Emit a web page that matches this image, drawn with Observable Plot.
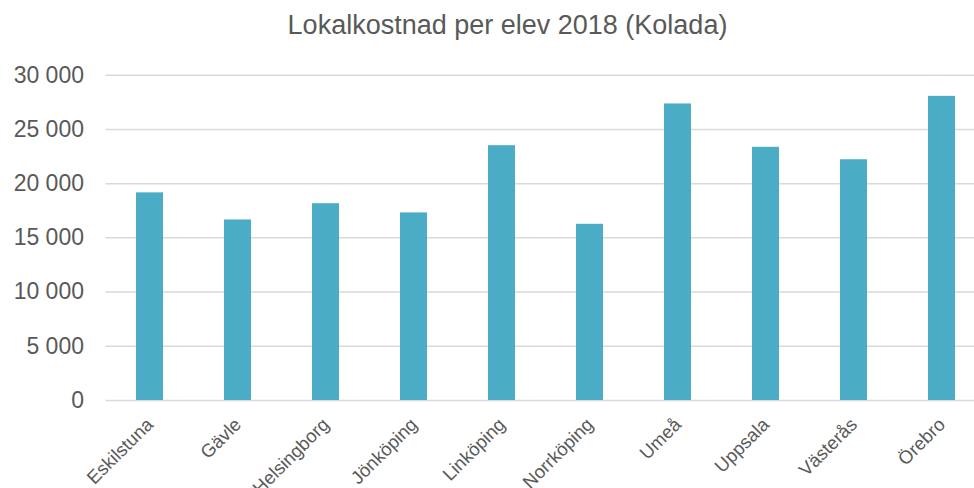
<!DOCTYPE html>
<html>
<head>
<meta charset="utf-8">
<script src="https://cdn.jsdelivr.net/npm/d3@7"></script>
<script src="https://cdn.jsdelivr.net/npm/@observablehq/plot@0.6"></script>
<style>
  html, body { margin: 0; padding: 0; background: #fff; overflow: hidden; }
  #wrap { position: relative; width: 974px; height: 488px; }
  #title { position: absolute; top: 10px; left: 0; width: 1015px; text-align: center; line-height: 31px;
    font-family: "Liberation Sans", Arial, sans-serif; font-size: 27px; color: #595959; }
  #chart { position: absolute; top: 0; left: 0; }
</style>
</head>
<body>
<div id="wrap">
  <div id="chart"></div>
  <div id="title">Lokalkostnad per elev 2018 (Kolada)</div>
</div>
<script>
const municipalities = ["Eskilstuna", "Gävle", "Helsingborg", "Jönköping", "Linköping", "Norrköping", "Umeå", "Uppsala", "Västerås", "Örebro"];
const costs = [19150, 16650, 18150, 17300, 23500, 16250, 27350, 23350, 22200, 28050];
const yTicks = [0, 5000, 10000, 15000, 20000, 25000, 30000];

const data = municipalities.map((m, i) => ({ m, v: costs[i] }));
const fmt = d => d3.format(",")(d).replace(/,/g, " ");

const chart = Plot.plot({
  width: 974,
  height: 488,
  marginLeft: 105.5,
  marginRight: 0,
  marginTop: 74.7,
  marginBottom: 88,
  style: { fontFamily: "Liberation Sans, Arial, sans-serif", color: "#595959", background: "transparent", overflow: "hidden" },
  x: { domain: municipalities, range: [105.5, 985.7], paddingInner: 0.69, paddingOuter: 0.345, label: null },
  y: { domain: [0, 30000], label: null },
  marks: [
    Plot.ruleY(yTicks, { stroke: "#d9d9d9", strokeWidth: 1.5 }),
    Plot.barY(data, { x: "m", y: "v", fill: "#4bacc6" }),
    Plot.axisY({ ticks: yTicks, tickFormat: fmt, tickSize: 0, tickPadding: 22, fontSize: 23, fill: "#595959", label: null }),
    Plot.axisX({ tickSize: 0, tickRotate: -45, tickPadding: 21, fontSize: 18.5, fill: "#595959", label: null })
  ]
});
document.getElementById("chart").appendChild(chart);
</script>
</body>
</html>
